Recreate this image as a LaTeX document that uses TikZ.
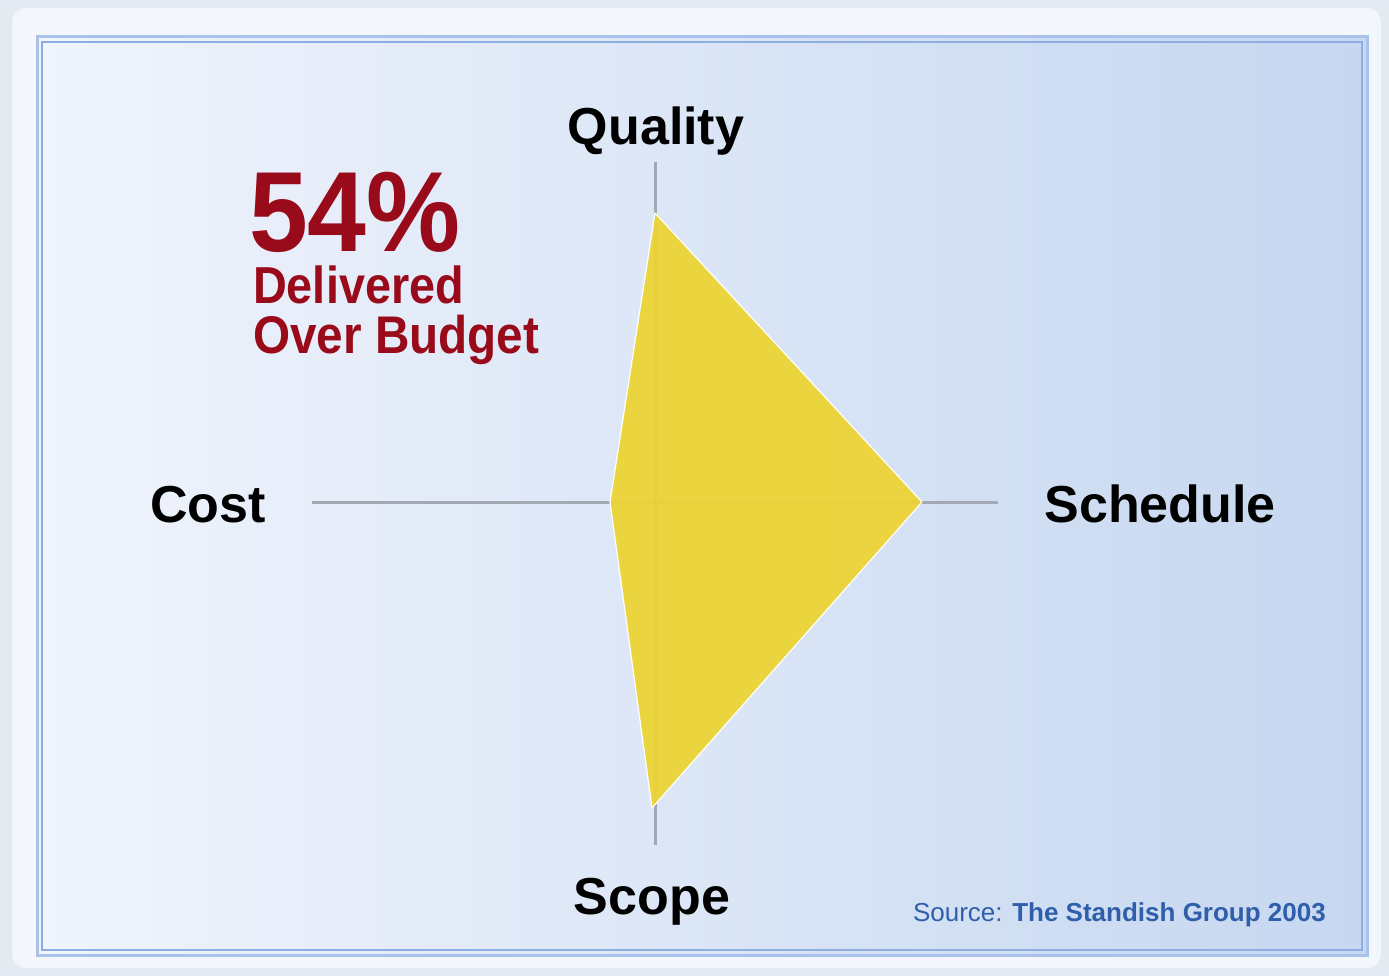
\documentclass[tikz,border=0pt]{standalone}
\usepackage{fontspec}
\setmainfont{Liberation Sans}
\definecolor{outerbg}{HTML}{E4EAF2}
\definecolor{framewhite}{HTML}{F3F6FB}
\definecolor{bgleft}{HTML}{F0F4FC}
\definecolor{bgright}{HTML}{C6D7F0}
\definecolor{blueA}{HTML}{A8C2EC}
\definecolor{blueB}{HTML}{8EAEE2}
\definecolor{axisgray}{HTML}{A2A9B2}
\definecolor{yellowfill}{HTML}{EDD432}
\definecolor{redtext}{HTML}{990A1A}
\definecolor{sourceblue}{HTML}{2F5FAA}
\tikzset{
  axislabel/.style={font=\fontsize{52}{60}\selectfont\bfseries, inner sep=0pt, anchor=base},
  axisline/.style={draw=axisgray, line width=3pt},
  redlabel/.style={text=redtext, inner sep=0pt, anchor=base west, xscale=0.9, font=\bfseries},
}
\begin{document}
\begin{tikzpicture}[x=1pt,y=-1pt]
\useasboundingbox (0,0) rectangle (1389,976);
\fill[outerbg] (0,0) rectangle (1389,976);
\fill[framewhite, rounded corners=14pt] (12,8) rectangle (1381,968);
\shade[left color=bgleft, right color=bgright] (38,38) rectangle (1366,954);
\draw[blueA, line width=3pt] (37,37) rectangle (1367,955);
\draw[blueB, line width=2pt] (42,42) rectangle (1362,950);

% axis end points
\coordinate (qtop) at (655,162);
\coordinate (sbot) at (655,845);
\coordinate (cleft) at (312,502);
\coordinate (sright) at (998,502);
% polygon vertices
\coordinate (pq) at (655,213);
\coordinate (ps) at (922,502);
\coordinate (pb) at (652,808);
\coordinate (pc) at (610,502);

\draw[axisline] (qtop) -- (sbot);
\draw[axisline] (cleft) -- (sright);

\fill[yellowfill, fill opacity=0.93] (pq) -- (ps) -- (pb) -- (pc) -- cycle;
\draw[white, line width=1.2pt, line join=round] (pq) -- (ps) -- (pb) -- (pc) -- cycle;

\node[axislabel] (quality) at (656,145) {Quality};
\node[axislabel] (cost) at (208,522) {Cost};
\node[axislabel] (schedule) at (1160,522) {Schedule};
\node[axislabel] (scope) at (652,914) {Scope};

\node[redlabel, xscale=1.03, text depth=0pt, font=\fontsize{114}{124}\selectfont\bfseries] (pct) at (249,252) {54\%};
\node[redlabel, text height=36pt, font=\fontsize{52}{60}\selectfont\bfseries] (deliv) at (253,304) {Delivered};
\node[redlabel, font=\fontsize{53}{60}\selectfont\bfseries] (overb) at (253,353) {Over Budget};

\node[inner sep=0pt, anchor=base east, text=sourceblue, font=\fontsize{26}{30}\selectfont] (source) at (1326,921) {Source: \textbf{The Standish Group 2003}};
\end{tikzpicture}
\end{document}
